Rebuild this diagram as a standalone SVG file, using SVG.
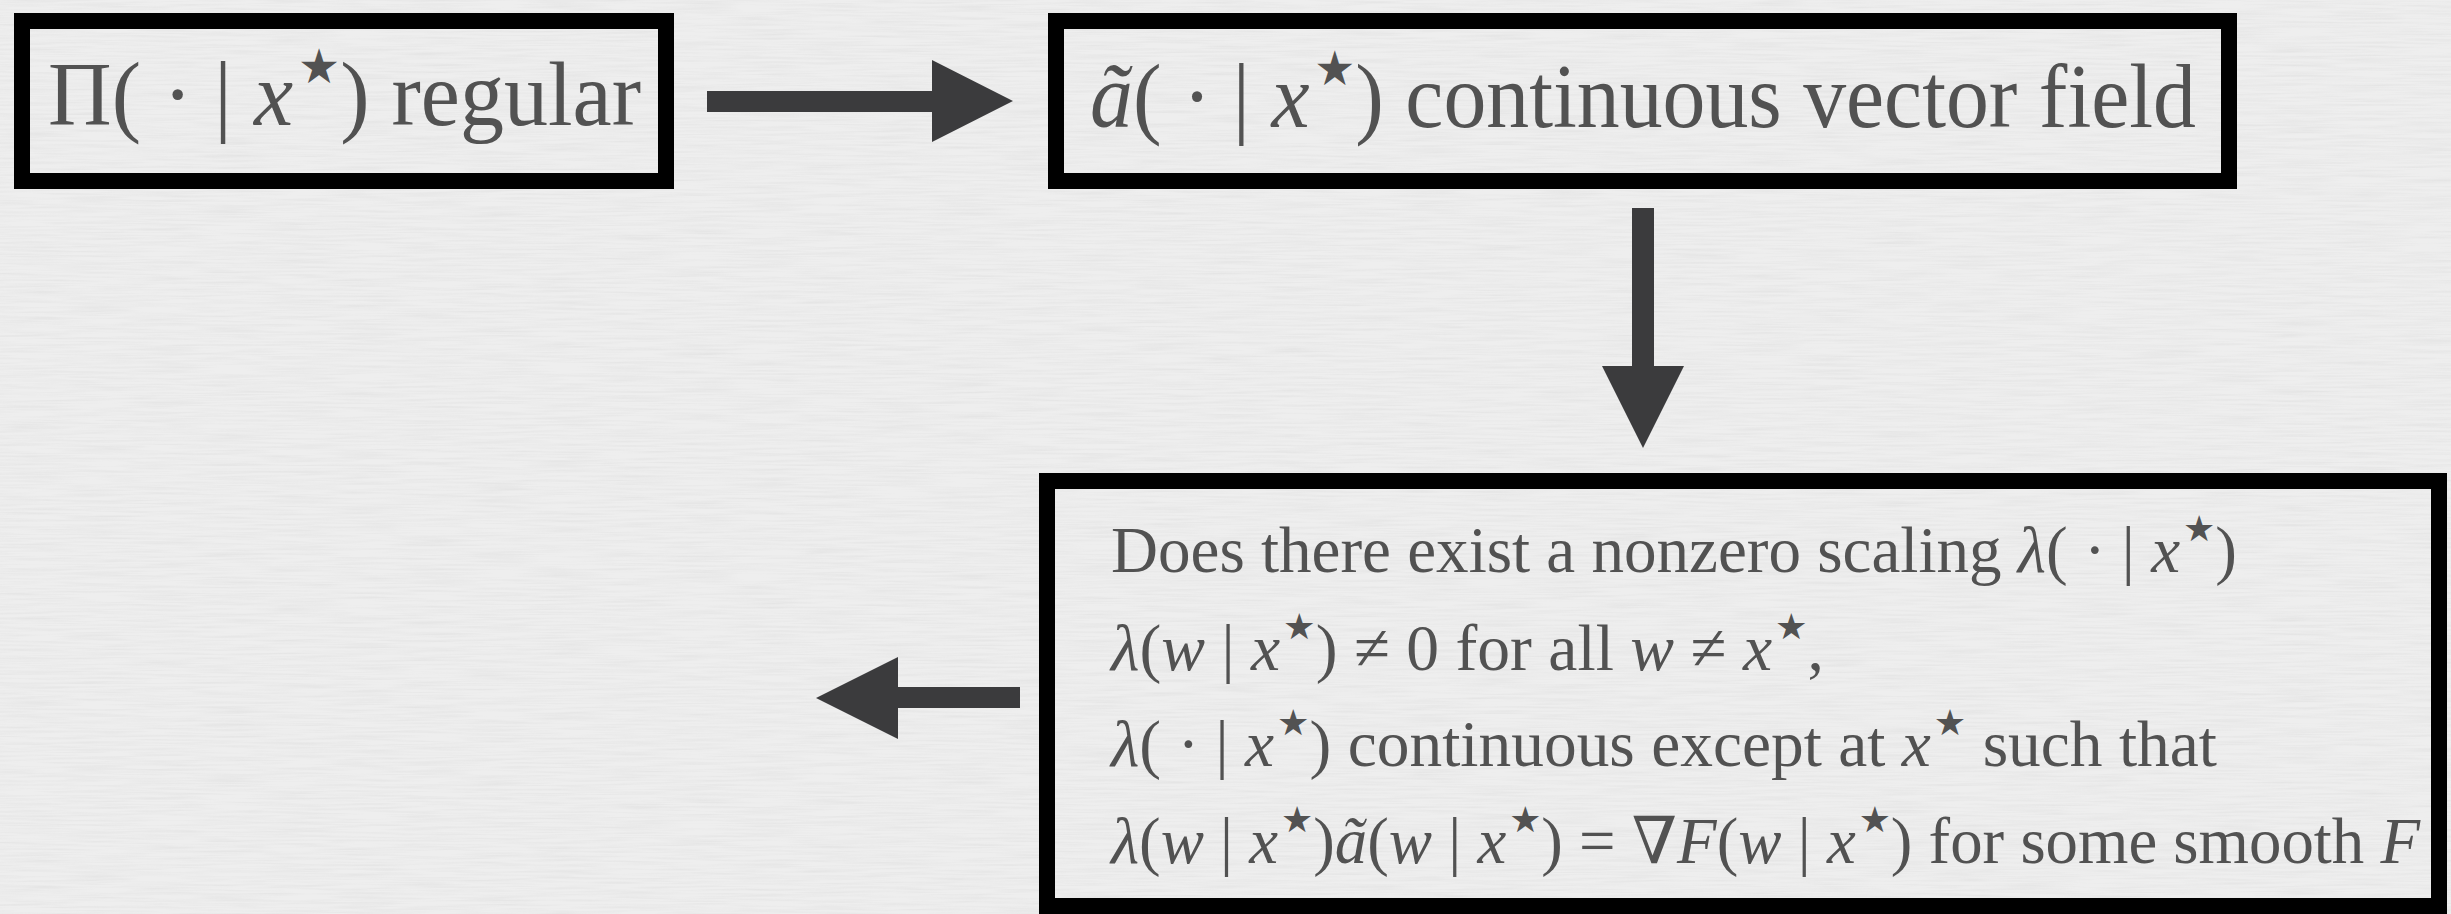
<svg xmlns="http://www.w3.org/2000/svg" width="2451" height="914" viewBox="0 0 2451 914">
  <style>
    .box { fill: none; stroke: #000; stroke-width: 16; }
    .t { font-family: "Liberation Serif", "DejaVu Serif", serif; fill: #525252; }
    .big { font-size: 90px; }
    .small { font-size: 65px; }
    .i { font-style: italic; }
    .sup { font-family: "DejaVu Sans", sans-serif; font-style: normal; }
    .arrow { fill: #3b3b3d; }
  </style>
  <defs>
    <filter id="paper" x="0" y="0" width="100%" height="100%">
      <feTurbulence type="fractalNoise" baseFrequency="0.015 0.45" numOctaves="3" seed="4" result="n"/>
      <feColorMatrix in="n" type="matrix" values="0 0 0 0 0.55  0 0 0 0 0.55  0 0 0 0 0.55  0 0 0 -1.6 1.0"/>
    </filter>
  </defs>
  <rect x="0" y="0" width="2451" height="914" fill="#eeeeee"/>
  <rect x="0" y="0" width="2451" height="914" filter="url(#paper)" opacity="0.25"/>

  <g id="connectors">
    <path class="arrow" d="M707,91 H932 V60 L1013,101 L932,142 V112 H707 Z"/>
    <path class="arrow" d="M1632,208 V366 H1602 L1643,448 L1684,366 H1654 V208 Z"/>
    <path class="arrow" d="M1020,687 H898 V657 L816,698 L898,739 V708 H1020 Z"/>
  </g>

  <g id="node-regular">
    <rect class="box" x="22" y="21" width="644" height="160"/>
    <text class="t big" x="48" y="125" textLength="593" lengthAdjust="spacingAndGlyphs">Π( · | <tspan class="i">x</tspan><tspan class="sup" font-size="48" dx="5" dy="-42">★</tspan><tspan dy="42">) regular</tspan></text>
  </g>

  <g id="node-vector-field">
    <rect class="box" x="1056" y="21" width="1173" height="160"/>
    <text class="t big" x="1090" y="127" textLength="1106" lengthAdjust="spacingAndGlyphs"><tspan class="i">ã</tspan>( · | <tspan class="i">x</tspan><tspan class="sup" font-size="48" dx="5" dy="-42">★</tspan><tspan dy="42">) continuous vector field</tspan></text>
  </g>

  <g id="node-scaling">
    <rect class="box" x="1047" y="481" width="1392" height="425"/>
    <text class="t small" x="1111" y="572" textLength="1126" lengthAdjust="spacingAndGlyphs">Does there exist a nonzero scaling <tspan class="i">λ</tspan>( · | <tspan class="i">x</tspan><tspan class="sup" font-size="36" dx="3" dy="-31">★</tspan><tspan dy="31">)</tspan></text>
    <text class="t small" x="1111" y="670" textLength="713" lengthAdjust="spacingAndGlyphs"><tspan class="i">λ</tspan>(<tspan class="i">w</tspan> | <tspan class="i">x</tspan><tspan class="sup" font-size="36" dx="3" dy="-31">★</tspan><tspan dy="31">) ≠ 0 for all </tspan><tspan class="i">w</tspan> ≠ <tspan class="i">x</tspan><tspan class="sup" font-size="36" dx="3" dy="-31">★</tspan><tspan dy="31">,</tspan></text>
    <text class="t small" x="1111" y="766" textLength="1106" lengthAdjust="spacingAndGlyphs"><tspan class="i">λ</tspan>( · | <tspan class="i">x</tspan><tspan class="sup" font-size="36" dx="3" dy="-31">★</tspan><tspan dy="31">) continuous except at </tspan><tspan class="i">x</tspan><tspan class="sup" font-size="36" dx="3" dy="-31">★</tspan><tspan dy="31"> such that</tspan></text>
    <text class="t small" x="1111" y="863" textLength="1309" lengthAdjust="spacingAndGlyphs"><tspan class="i">λ</tspan>(<tspan class="i">w</tspan> | <tspan class="i">x</tspan><tspan class="sup" font-size="36" dx="3" dy="-31">★</tspan><tspan dy="31">)</tspan><tspan class="i">ã</tspan>(<tspan class="i">w</tspan> | <tspan class="i">x</tspan><tspan class="sup" font-size="36" dx="3" dy="-31">★</tspan><tspan dy="31">) = ∇</tspan><tspan class="i">F</tspan>(<tspan class="i">w</tspan> | <tspan class="i">x</tspan><tspan class="sup" font-size="36" dx="3" dy="-31">★</tspan><tspan dy="31">) for some smooth </tspan><tspan class="i">F</tspan></text>
  </g>
</svg>
